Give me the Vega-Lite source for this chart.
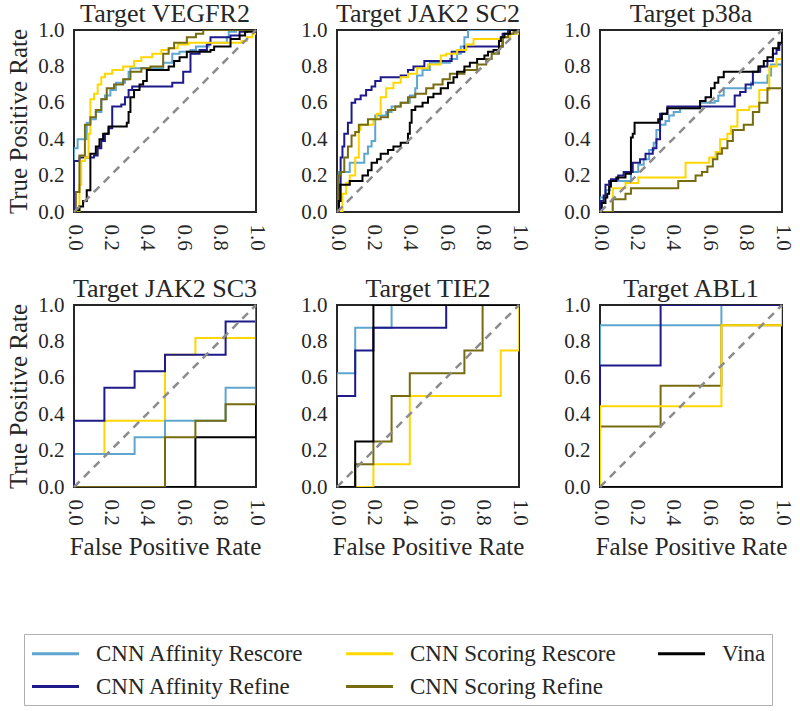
{
  "$schema": "https://vega.github.io/schema/vega-lite/v6.json",
  "padding": {"left": 5, "top": 0, "right": 5, "bottom": 0},
  "background": "white",
  "datasets": {
    "diag": [{"x": 0, "y": 0}, {"x": 1, "y": 1}],
    "roc": [
      {"t":"VEGFR2","m":"CNN Affinity Rescore","x":0,"y":0},{"t":"VEGFR2","m":"CNN Affinity Rescore","x":0,"y":0.35},{"t":"VEGFR2","m":"CNN Affinity Rescore","x":0.02,"y":0.40},{"t":"VEGFR2","m":"CNN Affinity Rescore","x":0.07,"y":0.49},{"t":"VEGFR2","m":"CNN Affinity Rescore","x":0.09,"y":0.51},{"t":"VEGFR2","m":"CNN Affinity Rescore","x":0.12,"y":0.55},{"t":"VEGFR2","m":"CNN Affinity Rescore","x":0.15,"y":0.62},{"t":"VEGFR2","m":"CNN Affinity Rescore","x":0.17,"y":0.64},{"t":"VEGFR2","m":"CNN Affinity Rescore","x":0.20,"y":0.67},{"t":"VEGFR2","m":"CNN Affinity Rescore","x":0.23,"y":0.71},{"t":"VEGFR2","m":"CNN Affinity Rescore","x":0.28,"y":0.73},{"t":"VEGFR2","m":"CNN Affinity Rescore","x":0.30,"y":0.77},{"t":"VEGFR2","m":"CNN Affinity Rescore","x":0.31,"y":0.79},{"t":"VEGFR2","m":"CNN Affinity Rescore","x":0.49,"y":0.82},{"t":"VEGFR2","m":"CNN Affinity Rescore","x":0.54,"y":0.87},{"t":"VEGFR2","m":"CNN Affinity Rescore","x":0.58,"y":0.88},{"t":"VEGFR2","m":"CNN Affinity Rescore","x":0.64,"y":0.89},{"t":"VEGFR2","m":"CNN Affinity Rescore","x":0.67,"y":0.91},{"t":"VEGFR2","m":"CNN Affinity Rescore","x":0.74,"y":0.93},{"t":"VEGFR2","m":"CNN Affinity Rescore","x":0.84,"y":0.96},{"t":"VEGFR2","m":"CNN Affinity Rescore","x":0.85,"y":0.99},{"t":"VEGFR2","m":"CNN Affinity Rescore","x":0.89,"y":1.0},{"t":"VEGFR2","m":"CNN Affinity Rescore","x":1,"y":1},
      {"t":"VEGFR2","m":"CNN Affinity Refine","x":0,"y":0},{"t":"VEGFR2","m":"CNN Affinity Refine","x":0,"y":0.28},{"t":"VEGFR2","m":"CNN Affinity Refine","x":0.03,"y":0.30},{"t":"VEGFR2","m":"CNN Affinity Refine","x":0.11,"y":0.31},{"t":"VEGFR2","m":"CNN Affinity Refine","x":0.13,"y":0.35},{"t":"VEGFR2","m":"CNN Affinity Refine","x":0.15,"y":0.39},{"t":"VEGFR2","m":"CNN Affinity Refine","x":0.17,"y":0.43},{"t":"VEGFR2","m":"CNN Affinity Refine","x":0.19,"y":0.46},{"t":"VEGFR2","m":"CNN Affinity Refine","x":0.21,"y":0.58},{"t":"VEGFR2","m":"CNN Affinity Refine","x":0.26,"y":0.59},{"t":"VEGFR2","m":"CNN Affinity Refine","x":0.28,"y":0.63},{"t":"VEGFR2","m":"CNN Affinity Refine","x":0.30,"y":0.67},{"t":"VEGFR2","m":"CNN Affinity Refine","x":0.32,"y":0.69},{"t":"VEGFR2","m":"CNN Affinity Refine","x":0.54,"y":0.71},{"t":"VEGFR2","m":"CNN Affinity Refine","x":0.60,"y":0.77},{"t":"VEGFR2","m":"CNN Affinity Refine","x":0.64,"y":0.87},{"t":"VEGFR2","m":"CNN Affinity Refine","x":0.69,"y":0.89},{"t":"VEGFR2","m":"CNN Affinity Refine","x":0.73,"y":0.92},{"t":"VEGFR2","m":"CNN Affinity Refine","x":0.75,"y":0.96},{"t":"VEGFR2","m":"CNN Affinity Refine","x":0.86,"y":0.97},{"t":"VEGFR2","m":"CNN Affinity Refine","x":0.91,"y":0.99},{"t":"VEGFR2","m":"CNN Affinity Refine","x":0.95,"y":1.0},{"t":"VEGFR2","m":"CNN Affinity Refine","x":1,"y":1},
      {"t":"VEGFR2","m":"CNN Scoring Rescore","x":0,"y":0},{"t":"VEGFR2","m":"CNN Scoring Rescore","x":0.03,"y":0.15},{"t":"VEGFR2","m":"CNN Scoring Rescore","x":0.04,"y":0.28},{"t":"VEGFR2","m":"CNN Scoring Rescore","x":0.06,"y":0.30},{"t":"VEGFR2","m":"CNN Scoring Rescore","x":0.08,"y":0.43},{"t":"VEGFR2","m":"CNN Scoring Rescore","x":0.09,"y":0.62},{"t":"VEGFR2","m":"CNN Scoring Rescore","x":0.11,"y":0.65},{"t":"VEGFR2","m":"CNN Scoring Rescore","x":0.13,"y":0.70},{"t":"VEGFR2","m":"CNN Scoring Rescore","x":0.15,"y":0.74},{"t":"VEGFR2","m":"CNN Scoring Rescore","x":0.17,"y":0.76},{"t":"VEGFR2","m":"CNN Scoring Rescore","x":0.21,"y":0.78},{"t":"VEGFR2","m":"CNN Scoring Rescore","x":0.27,"y":0.80},{"t":"VEGFR2","m":"CNN Scoring Rescore","x":0.33,"y":0.83},{"t":"VEGFR2","m":"CNN Scoring Rescore","x":0.37,"y":0.85},{"t":"VEGFR2","m":"CNN Scoring Rescore","x":0.43,"y":0.87},{"t":"VEGFR2","m":"CNN Scoring Rescore","x":0.48,"y":0.89},{"t":"VEGFR2","m":"CNN Scoring Rescore","x":0.52,"y":0.90},{"t":"VEGFR2","m":"CNN Scoring Rescore","x":0.57,"y":0.92},{"t":"VEGFR2","m":"CNN Scoring Rescore","x":0.63,"y":0.93},{"t":"VEGFR2","m":"CNN Scoring Rescore","x":0.92,"y":0.94},{"t":"VEGFR2","m":"CNN Scoring Rescore","x":0.95,"y":0.96},{"t":"VEGFR2","m":"CNN Scoring Rescore","x":0.98,"y":0.98},{"t":"VEGFR2","m":"CNN Scoring Rescore","x":1,"y":1},
      {"t":"VEGFR2","m":"CNN Scoring Refine","x":0,"y":0},{"t":"VEGFR2","m":"CNN Scoring Refine","x":0.01,"y":0.11},{"t":"VEGFR2","m":"CNN Scoring Refine","x":0.03,"y":0.31},{"t":"VEGFR2","m":"CNN Scoring Refine","x":0.06,"y":0.48},{"t":"VEGFR2","m":"CNN Scoring Refine","x":0.09,"y":0.52},{"t":"VEGFR2","m":"CNN Scoring Refine","x":0.12,"y":0.56},{"t":"VEGFR2","m":"CNN Scoring Refine","x":0.15,"y":0.62},{"t":"VEGFR2","m":"CNN Scoring Refine","x":0.18,"y":0.68},{"t":"VEGFR2","m":"CNN Scoring Refine","x":0.22,"y":0.70},{"t":"VEGFR2","m":"CNN Scoring Refine","x":0.27,"y":0.73},{"t":"VEGFR2","m":"CNN Scoring Refine","x":0.31,"y":0.77},{"t":"VEGFR2","m":"CNN Scoring Refine","x":0.37,"y":0.79},{"t":"VEGFR2","m":"CNN Scoring Refine","x":0.42,"y":0.80},{"t":"VEGFR2","m":"CNN Scoring Refine","x":0.49,"y":0.87},{"t":"VEGFR2","m":"CNN Scoring Refine","x":0.52,"y":0.90},{"t":"VEGFR2","m":"CNN Scoring Refine","x":0.55,"y":0.93},{"t":"VEGFR2","m":"CNN Scoring Refine","x":0.62,"y":0.96},{"t":"VEGFR2","m":"CNN Scoring Refine","x":0.67,"y":0.98},{"t":"VEGFR2","m":"CNN Scoring Refine","x":0.71,"y":1.0},{"t":"VEGFR2","m":"CNN Scoring Refine","x":1,"y":1},
      {"t":"VEGFR2","m":"Vina","x":0,"y":0},{"t":"VEGFR2","m":"Vina","x":0,"y":0.01},{"t":"VEGFR2","m":"Vina","x":0.03,"y":0.03},{"t":"VEGFR2","m":"Vina","x":0.05,"y":0.06},{"t":"VEGFR2","m":"Vina","x":0.07,"y":0.12},{"t":"VEGFR2","m":"Vina","x":0.09,"y":0.32},{"t":"VEGFR2","m":"Vina","x":0.12,"y":0.36},{"t":"VEGFR2","m":"Vina","x":0.14,"y":0.40},{"t":"VEGFR2","m":"Vina","x":0.16,"y":0.43},{"t":"VEGFR2","m":"Vina","x":0.19,"y":0.47},{"t":"VEGFR2","m":"Vina","x":0.29,"y":0.49},{"t":"VEGFR2","m":"Vina","x":0.30,"y":0.55},{"t":"VEGFR2","m":"Vina","x":0.31,"y":0.63},{"t":"VEGFR2","m":"Vina","x":0.33,"y":0.67},{"t":"VEGFR2","m":"Vina","x":0.36,"y":0.70},{"t":"VEGFR2","m":"Vina","x":0.38,"y":0.72},{"t":"VEGFR2","m":"Vina","x":0.40,"y":0.78},{"t":"VEGFR2","m":"Vina","x":0.52,"y":0.80},{"t":"VEGFR2","m":"Vina","x":0.55,"y":0.83},{"t":"VEGFR2","m":"Vina","x":0.58,"y":0.85},{"t":"VEGFR2","m":"Vina","x":0.62,"y":0.88},{"t":"VEGFR2","m":"Vina","x":0.75,"y":0.89},{"t":"VEGFR2","m":"Vina","x":0.77,"y":0.91},{"t":"VEGFR2","m":"Vina","x":0.86,"y":0.95},{"t":"VEGFR2","m":"Vina","x":0.91,"y":0.97},{"t":"VEGFR2","m":"Vina","x":0.94,"y":0.99},{"t":"VEGFR2","m":"Vina","x":1,"y":1},

      {"t":"JAK2 SC2","m":"CNN Affinity Rescore","x":0,"y":0},{"t":"JAK2 SC2","m":"CNN Affinity Rescore","x":0.01,"y":0.22},{"t":"JAK2 SC2","m":"CNN Affinity Rescore","x":0.07,"y":0.27},{"t":"JAK2 SC2","m":"CNN Affinity Rescore","x":0.15,"y":0.32},{"t":"JAK2 SC2","m":"CNN Affinity Rescore","x":0.17,"y":0.36},{"t":"JAK2 SC2","m":"CNN Affinity Rescore","x":0.19,"y":0.39},{"t":"JAK2 SC2","m":"CNN Affinity Rescore","x":0.21,"y":0.53},{"t":"JAK2 SC2","m":"CNN Affinity Rescore","x":0.27,"y":0.55},{"t":"JAK2 SC2","m":"CNN Affinity Rescore","x":0.30,"y":0.58},{"t":"JAK2 SC2","m":"CNN Affinity Rescore","x":0.35,"y":0.60},{"t":"JAK2 SC2","m":"CNN Affinity Rescore","x":0.40,"y":0.64},{"t":"JAK2 SC2","m":"CNN Affinity Rescore","x":0.43,"y":0.68},{"t":"JAK2 SC2","m":"CNN Affinity Rescore","x":0.44,"y":0.75},{"t":"JAK2 SC2","m":"CNN Affinity Rescore","x":0.47,"y":0.78},{"t":"JAK2 SC2","m":"CNN Affinity Rescore","x":0.51,"y":0.82},{"t":"JAK2 SC2","m":"CNN Affinity Rescore","x":0.62,"y":0.84},{"t":"JAK2 SC2","m":"CNN Affinity Rescore","x":0.66,"y":0.87},{"t":"JAK2 SC2","m":"CNN Affinity Rescore","x":0.68,"y":0.91},{"t":"JAK2 SC2","m":"CNN Affinity Rescore","x":0.70,"y":0.96},{"t":"JAK2 SC2","m":"CNN Affinity Rescore","x":0.72,"y":1.0},{"t":"JAK2 SC2","m":"CNN Affinity Rescore","x":1,"y":1},
      {"t":"JAK2 SC2","m":"CNN Affinity Refine","x":0,"y":0},{"t":"JAK2 SC2","m":"CNN Affinity Refine","x":0.01,"y":0.15},{"t":"JAK2 SC2","m":"CNN Affinity Refine","x":0.02,"y":0.30},{"t":"JAK2 SC2","m":"CNN Affinity Refine","x":0.03,"y":0.36},{"t":"JAK2 SC2","m":"CNN Affinity Refine","x":0.04,"y":0.43},{"t":"JAK2 SC2","m":"CNN Affinity Refine","x":0.06,"y":0.49},{"t":"JAK2 SC2","m":"CNN Affinity Refine","x":0.08,"y":0.60},{"t":"JAK2 SC2","m":"CNN Affinity Refine","x":0.10,"y":0.62},{"t":"JAK2 SC2","m":"CNN Affinity Refine","x":0.13,"y":0.64},{"t":"JAK2 SC2","m":"CNN Affinity Refine","x":0.16,"y":0.67},{"t":"JAK2 SC2","m":"CNN Affinity Refine","x":0.19,"y":0.69},{"t":"JAK2 SC2","m":"CNN Affinity Refine","x":0.21,"y":0.72},{"t":"JAK2 SC2","m":"CNN Affinity Refine","x":0.24,"y":0.74},{"t":"JAK2 SC2","m":"CNN Affinity Refine","x":0.35,"y":0.75},{"t":"JAK2 SC2","m":"CNN Affinity Refine","x":0.39,"y":0.78},{"t":"JAK2 SC2","m":"CNN Affinity Refine","x":0.42,"y":0.80},{"t":"JAK2 SC2","m":"CNN Affinity Refine","x":0.48,"y":0.83},{"t":"JAK2 SC2","m":"CNN Affinity Refine","x":0.63,"y":0.88},{"t":"JAK2 SC2","m":"CNN Affinity Refine","x":0.70,"y":0.91},{"t":"JAK2 SC2","m":"CNN Affinity Refine","x":0.91,"y":0.98},{"t":"JAK2 SC2","m":"CNN Affinity Refine","x":0.94,"y":1.0},{"t":"JAK2 SC2","m":"CNN Affinity Refine","x":1,"y":1},
      {"t":"JAK2 SC2","m":"CNN Scoring Rescore","x":0,"y":0},{"t":"JAK2 SC2","m":"CNN Scoring Rescore","x":0.03,"y":0.10},{"t":"JAK2 SC2","m":"CNN Scoring Rescore","x":0.05,"y":0.16},{"t":"JAK2 SC2","m":"CNN Scoring Rescore","x":0.07,"y":0.20},{"t":"JAK2 SC2","m":"CNN Scoring Rescore","x":0.10,"y":0.30},{"t":"JAK2 SC2","m":"CNN Scoring Rescore","x":0.12,"y":0.45},{"t":"JAK2 SC2","m":"CNN Scoring Rescore","x":0.13,"y":0.48},{"t":"JAK2 SC2","m":"CNN Scoring Rescore","x":0.20,"y":0.51},{"t":"JAK2 SC2","m":"CNN Scoring Rescore","x":0.22,"y":0.54},{"t":"JAK2 SC2","m":"CNN Scoring Rescore","x":0.24,"y":0.63},{"t":"JAK2 SC2","m":"CNN Scoring Rescore","x":0.27,"y":0.68},{"t":"JAK2 SC2","m":"CNN Scoring Rescore","x":0.31,"y":0.71},{"t":"JAK2 SC2","m":"CNN Scoring Rescore","x":0.35,"y":0.74},{"t":"JAK2 SC2","m":"CNN Scoring Rescore","x":0.39,"y":0.76},{"t":"JAK2 SC2","m":"CNN Scoring Rescore","x":0.44,"y":0.79},{"t":"JAK2 SC2","m":"CNN Scoring Rescore","x":0.50,"y":0.81},{"t":"JAK2 SC2","m":"CNN Scoring Rescore","x":0.57,"y":0.86},{"t":"JAK2 SC2","m":"CNN Scoring Rescore","x":0.60,"y":0.87},{"t":"JAK2 SC2","m":"CNN Scoring Rescore","x":0.66,"y":0.89},{"t":"JAK2 SC2","m":"CNN Scoring Rescore","x":0.71,"y":0.92},{"t":"JAK2 SC2","m":"CNN Scoring Rescore","x":0.75,"y":0.95},{"t":"JAK2 SC2","m":"CNN Scoring Rescore","x":0.90,"y":0.96},{"t":"JAK2 SC2","m":"CNN Scoring Rescore","x":0.95,"y":0.98},{"t":"JAK2 SC2","m":"CNN Scoring Rescore","x":1,"y":1},
      {"t":"JAK2 SC2","m":"CNN Scoring Refine","x":0,"y":0},{"t":"JAK2 SC2","m":"CNN Scoring Refine","x":0.005,"y":0.20},{"t":"JAK2 SC2","m":"CNN Scoring Refine","x":0.02,"y":0.22},{"t":"JAK2 SC2","m":"CNN Scoring Refine","x":0.04,"y":0.30},{"t":"JAK2 SC2","m":"CNN Scoring Refine","x":0.06,"y":0.36},{"t":"JAK2 SC2","m":"CNN Scoring Refine","x":0.08,"y":0.42},{"t":"JAK2 SC2","m":"CNN Scoring Refine","x":0.10,"y":0.44},{"t":"JAK2 SC2","m":"CNN Scoring Refine","x":0.12,"y":0.48},{"t":"JAK2 SC2","m":"CNN Scoring Refine","x":0.17,"y":0.51},{"t":"JAK2 SC2","m":"CNN Scoring Refine","x":0.24,"y":0.52},{"t":"JAK2 SC2","m":"CNN Scoring Refine","x":0.28,"y":0.56},{"t":"JAK2 SC2","m":"CNN Scoring Refine","x":0.32,"y":0.58},{"t":"JAK2 SC2","m":"CNN Scoring Refine","x":0.35,"y":0.60},{"t":"JAK2 SC2","m":"CNN Scoring Refine","x":0.39,"y":0.63},{"t":"JAK2 SC2","m":"CNN Scoring Refine","x":0.43,"y":0.65},{"t":"JAK2 SC2","m":"CNN Scoring Refine","x":0.49,"y":0.68},{"t":"JAK2 SC2","m":"CNN Scoring Refine","x":0.53,"y":0.70},{"t":"JAK2 SC2","m":"CNN Scoring Refine","x":0.58,"y":0.73},{"t":"JAK2 SC2","m":"CNN Scoring Refine","x":0.62,"y":0.76},{"t":"JAK2 SC2","m":"CNN Scoring Refine","x":0.70,"y":0.78},{"t":"JAK2 SC2","m":"CNN Scoring Refine","x":0.77,"y":0.81},{"t":"JAK2 SC2","m":"CNN Scoring Refine","x":0.82,"y":0.84},{"t":"JAK2 SC2","m":"CNN Scoring Refine","x":0.85,"y":0.87},{"t":"JAK2 SC2","m":"CNN Scoring Refine","x":0.89,"y":0.91},{"t":"JAK2 SC2","m":"CNN Scoring Refine","x":0.91,"y":0.96},{"t":"JAK2 SC2","m":"CNN Scoring Refine","x":0.94,"y":0.98},{"t":"JAK2 SC2","m":"CNN Scoring Refine","x":0.97,"y":0.99},{"t":"JAK2 SC2","m":"CNN Scoring Refine","x":1,"y":1},
      {"t":"JAK2 SC2","m":"Vina","x":0,"y":0},{"t":"JAK2 SC2","m":"Vina","x":0.01,"y":0.06},{"t":"JAK2 SC2","m":"Vina","x":0.02,"y":0.15},{"t":"JAK2 SC2","m":"Vina","x":0.07,"y":0.17},{"t":"JAK2 SC2","m":"Vina","x":0.14,"y":0.20},{"t":"JAK2 SC2","m":"Vina","x":0.17,"y":0.23},{"t":"JAK2 SC2","m":"Vina","x":0.19,"y":0.27},{"t":"JAK2 SC2","m":"Vina","x":0.22,"y":0.29},{"t":"JAK2 SC2","m":"Vina","x":0.24,"y":0.32},{"t":"JAK2 SC2","m":"Vina","x":0.28,"y":0.34},{"t":"JAK2 SC2","m":"Vina","x":0.31,"y":0.36},{"t":"JAK2 SC2","m":"Vina","x":0.35,"y":0.38},{"t":"JAK2 SC2","m":"Vina","x":0.39,"y":0.43},{"t":"JAK2 SC2","m":"Vina","x":0.40,"y":0.49},{"t":"JAK2 SC2","m":"Vina","x":0.41,"y":0.56},{"t":"JAK2 SC2","m":"Vina","x":0.43,"y":0.58},{"t":"JAK2 SC2","m":"Vina","x":0.47,"y":0.60},{"t":"JAK2 SC2","m":"Vina","x":0.50,"y":0.63},{"t":"JAK2 SC2","m":"Vina","x":0.53,"y":0.65},{"t":"JAK2 SC2","m":"Vina","x":0.57,"y":0.68},{"t":"JAK2 SC2","m":"Vina","x":0.61,"y":0.71},{"t":"JAK2 SC2","m":"Vina","x":0.64,"y":0.74},{"t":"JAK2 SC2","m":"Vina","x":0.66,"y":0.77},{"t":"JAK2 SC2","m":"Vina","x":0.70,"y":0.80},{"t":"JAK2 SC2","m":"Vina","x":0.73,"y":0.82},{"t":"JAK2 SC2","m":"Vina","x":0.77,"y":0.84},{"t":"JAK2 SC2","m":"Vina","x":0.81,"y":0.86},{"t":"JAK2 SC2","m":"Vina","x":0.83,"y":0.88},{"t":"JAK2 SC2","m":"Vina","x":0.86,"y":0.89},{"t":"JAK2 SC2","m":"Vina","x":0.89,"y":0.94},{"t":"JAK2 SC2","m":"Vina","x":0.90,"y":0.96},{"t":"JAK2 SC2","m":"Vina","x":0.92,"y":0.98},{"t":"JAK2 SC2","m":"Vina","x":0.95,"y":1.0},{"t":"JAK2 SC2","m":"Vina","x":1,"y":1},

      {"t":"p38a","m":"CNN Affinity Rescore","x":0,"y":0},{"t":"p38a","m":"CNN Affinity Rescore","x":0,"y":0.08},{"t":"p38a","m":"CNN Affinity Rescore","x":0.03,"y":0.12},{"t":"p38a","m":"CNN Affinity Rescore","x":0.055,"y":0.17},{"t":"p38a","m":"CNN Affinity Rescore","x":0.17,"y":0.22},{"t":"p38a","m":"CNN Affinity Rescore","x":0.21,"y":0.26},{"t":"p38a","m":"CNN Affinity Rescore","x":0.24,"y":0.29},{"t":"p38a","m":"CNN Affinity Rescore","x":0.27,"y":0.34},{"t":"p38a","m":"CNN Affinity Rescore","x":0.295,"y":0.38},{"t":"p38a","m":"CNN Affinity Rescore","x":0.31,"y":0.45},{"t":"p38a","m":"CNN Affinity Rescore","x":0.33,"y":0.48},{"t":"p38a","m":"CNN Affinity Rescore","x":0.36,"y":0.50},{"t":"p38a","m":"CNN Affinity Rescore","x":0.38,"y":0.53},{"t":"p38a","m":"CNN Affinity Rescore","x":0.405,"y":0.55},{"t":"p38a","m":"CNN Affinity Rescore","x":0.44,"y":0.57},{"t":"p38a","m":"CNN Affinity Rescore","x":0.55,"y":0.60},{"t":"p38a","m":"CNN Affinity Rescore","x":0.63,"y":0.61},{"t":"p38a","m":"CNN Affinity Rescore","x":0.65,"y":0.64},{"t":"p38a","m":"CNN Affinity Rescore","x":0.68,"y":0.68},{"t":"p38a","m":"CNN Affinity Rescore","x":0.83,"y":0.71},{"t":"p38a","m":"CNN Affinity Rescore","x":0.92,"y":0.75},{"t":"p38a","m":"CNN Affinity Rescore","x":0.94,"y":0.81},{"t":"p38a","m":"CNN Affinity Rescore","x":1,"y":1},
      {"t":"p38a","m":"CNN Affinity Refine","x":0,"y":0},{"t":"p38a","m":"CNN Affinity Refine","x":0,"y":0.06},{"t":"p38a","m":"CNN Affinity Refine","x":0.02,"y":0.09},{"t":"p38a","m":"CNN Affinity Refine","x":0.03,"y":0.15},{"t":"p38a","m":"CNN Affinity Refine","x":0.05,"y":0.17},{"t":"p38a","m":"CNN Affinity Refine","x":0.06,"y":0.18},{"t":"p38a","m":"CNN Affinity Refine","x":0.10,"y":0.20},{"t":"p38a","m":"CNN Affinity Refine","x":0.13,"y":0.22},{"t":"p38a","m":"CNN Affinity Refine","x":0.18,"y":0.27},{"t":"p38a","m":"CNN Affinity Refine","x":0.22,"y":0.29},{"t":"p38a","m":"CNN Affinity Refine","x":0.25,"y":0.32},{"t":"p38a","m":"CNN Affinity Refine","x":0.29,"y":0.35},{"t":"p38a","m":"CNN Affinity Refine","x":0.31,"y":0.40},{"t":"p38a","m":"CNN Affinity Refine","x":0.33,"y":0.54},{"t":"p38a","m":"CNN Affinity Refine","x":0.37,"y":0.58},{"t":"p38a","m":"CNN Affinity Refine","x":0.74,"y":0.64},{"t":"p38a","m":"CNN Affinity Refine","x":0.77,"y":0.66},{"t":"p38a","m":"CNN Affinity Refine","x":0.80,"y":0.70},{"t":"p38a","m":"CNN Affinity Refine","x":0.84,"y":0.77},{"t":"p38a","m":"CNN Affinity Refine","x":0.88,"y":0.80},{"t":"p38a","m":"CNN Affinity Refine","x":0.92,"y":0.83},{"t":"p38a","m":"CNN Affinity Refine","x":0.95,"y":0.87},{"t":"p38a","m":"CNN Affinity Refine","x":0.97,"y":0.89},{"t":"p38a","m":"CNN Affinity Refine","x":0.985,"y":0.92},{"t":"p38a","m":"CNN Affinity Refine","x":1,"y":1},
      {"t":"p38a","m":"CNN Scoring Rescore","x":0,"y":0},{"t":"p38a","m":"CNN Scoring Rescore","x":0.07,"y":0.13},{"t":"p38a","m":"CNN Scoring Rescore","x":0.14,"y":0.16},{"t":"p38a","m":"CNN Scoring Rescore","x":0.21,"y":0.19},{"t":"p38a","m":"CNN Scoring Rescore","x":0.47,"y":0.27},{"t":"p38a","m":"CNN Scoring Rescore","x":0.60,"y":0.30},{"t":"p38a","m":"CNN Scoring Rescore","x":0.635,"y":0.33},{"t":"p38a","m":"CNN Scoring Rescore","x":0.66,"y":0.40},{"t":"p38a","m":"CNN Scoring Rescore","x":0.70,"y":0.43},{"t":"p38a","m":"CNN Scoring Rescore","x":0.72,"y":0.47},{"t":"p38a","m":"CNN Scoring Rescore","x":0.755,"y":0.56},{"t":"p38a","m":"CNN Scoring Rescore","x":0.82,"y":0.58},{"t":"p38a","m":"CNN Scoring Rescore","x":0.875,"y":0.67},{"t":"p38a","m":"CNN Scoring Rescore","x":0.93,"y":0.80},{"t":"p38a","m":"CNN Scoring Rescore","x":0.97,"y":0.84},{"t":"p38a","m":"CNN Scoring Rescore","x":1,"y":1},
      {"t":"p38a","m":"CNN Scoring Refine","x":0,"y":0},{"t":"p38a","m":"CNN Scoring Refine","x":0.07,"y":0.07},{"t":"p38a","m":"CNN Scoring Refine","x":0.14,"y":0.10},{"t":"p38a","m":"CNN Scoring Refine","x":0.17,"y":0.13},{"t":"p38a","m":"CNN Scoring Refine","x":0.43,"y":0.17},{"t":"p38a","m":"CNN Scoring Refine","x":0.525,"y":0.20},{"t":"p38a","m":"CNN Scoring Refine","x":0.56,"y":0.22},{"t":"p38a","m":"CNN Scoring Refine","x":0.59,"y":0.25},{"t":"p38a","m":"CNN Scoring Refine","x":0.62,"y":0.29},{"t":"p38a","m":"CNN Scoring Refine","x":0.645,"y":0.32},{"t":"p38a","m":"CNN Scoring Refine","x":0.67,"y":0.35},{"t":"p38a","m":"CNN Scoring Refine","x":0.70,"y":0.39},{"t":"p38a","m":"CNN Scoring Refine","x":0.73,"y":0.45},{"t":"p38a","m":"CNN Scoring Refine","x":0.79,"y":0.48},{"t":"p38a","m":"CNN Scoring Refine","x":0.84,"y":0.55},{"t":"p38a","m":"CNN Scoring Refine","x":0.875,"y":0.60},{"t":"p38a","m":"CNN Scoring Refine","x":0.92,"y":0.68},{"t":"p38a","m":"CNN Scoring Refine","x":1,"y":1},
      {"t":"p38a","m":"Vina","x":0,"y":0},{"t":"p38a","m":"Vina","x":0.01,"y":0.05},{"t":"p38a","m":"Vina","x":0.03,"y":0.08},{"t":"p38a","m":"Vina","x":0.04,"y":0.10},{"t":"p38a","m":"Vina","x":0.05,"y":0.14},{"t":"p38a","m":"Vina","x":0.06,"y":0.17},{"t":"p38a","m":"Vina","x":0.09,"y":0.19},{"t":"p38a","m":"Vina","x":0.14,"y":0.21},{"t":"p38a","m":"Vina","x":0.17,"y":0.41},{"t":"p38a","m":"Vina","x":0.18,"y":0.43},{"t":"p38a","m":"Vina","x":0.19,"y":0.49},{"t":"p38a","m":"Vina","x":0.32,"y":0.51},{"t":"p38a","m":"Vina","x":0.34,"y":0.54},{"t":"p38a","m":"Vina","x":0.37,"y":0.57},{"t":"p38a","m":"Vina","x":0.55,"y":0.61},{"t":"p38a","m":"Vina","x":0.58,"y":0.63},{"t":"p38a","m":"Vina","x":0.61,"y":0.68},{"t":"p38a","m":"Vina","x":0.63,"y":0.71},{"t":"p38a","m":"Vina","x":0.65,"y":0.74},{"t":"p38a","m":"Vina","x":0.68,"y":0.77},{"t":"p38a","m":"Vina","x":0.87,"y":0.80},{"t":"p38a","m":"Vina","x":0.90,"y":0.83},{"t":"p38a","m":"Vina","x":0.92,"y":0.85},{"t":"p38a","m":"Vina","x":0.95,"y":0.90},{"t":"p38a","m":"Vina","x":0.98,"y":0.93},{"t":"p38a","m":"Vina","x":1,"y":1},

      {"t":"JAK2 SC3","m":"CNN Scoring Rescore","x":0,"y":0},{"t":"JAK2 SC3","m":"CNN Scoring Rescore","x":0,"y":0.182},{"t":"JAK2 SC3","m":"CNN Scoring Rescore","x":0.167,"y":0.364},{"t":"JAK2 SC3","m":"CNN Scoring Rescore","x":0.5,"y":0.727},{"t":"JAK2 SC3","m":"CNN Scoring Rescore","x":0.667,"y":0.818},{"t":"JAK2 SC3","m":"CNN Scoring Rescore","x":1,"y":1},
      {"t":"JAK2 SC3","m":"CNN Affinity Rescore","x":0,"y":0},{"t":"JAK2 SC3","m":"CNN Affinity Rescore","x":0,"y":0.182},{"t":"JAK2 SC3","m":"CNN Affinity Rescore","x":0.333,"y":0.273},{"t":"JAK2 SC3","m":"CNN Affinity Rescore","x":0.5,"y":0.364},{"t":"JAK2 SC3","m":"CNN Affinity Rescore","x":0.833,"y":0.545},{"t":"JAK2 SC3","m":"CNN Affinity Rescore","x":1,"y":1},
      {"t":"JAK2 SC3","m":"CNN Affinity Refine","x":0,"y":0},{"t":"JAK2 SC3","m":"CNN Affinity Refine","x":0,"y":0.364},{"t":"JAK2 SC3","m":"CNN Affinity Refine","x":0.167,"y":0.545},{"t":"JAK2 SC3","m":"CNN Affinity Refine","x":0.333,"y":0.636},{"t":"JAK2 SC3","m":"CNN Affinity Refine","x":0.5,"y":0.727},{"t":"JAK2 SC3","m":"CNN Affinity Refine","x":0.833,"y":0.909},{"t":"JAK2 SC3","m":"CNN Affinity Refine","x":1,"y":1},
      {"t":"JAK2 SC3","m":"Vina","x":0,"y":0},{"t":"JAK2 SC3","m":"Vina","x":0.667,"y":0.273},{"t":"JAK2 SC3","m":"Vina","x":1,"y":1},
      {"t":"JAK2 SC3","m":"CNN Scoring Refine","x":0,"y":0},{"t":"JAK2 SC3","m":"CNN Scoring Refine","x":0.5,"y":0.273},{"t":"JAK2 SC3","m":"CNN Scoring Refine","x":0.667,"y":0.364},{"t":"JAK2 SC3","m":"CNN Scoring Refine","x":0.833,"y":0.455},{"t":"JAK2 SC3","m":"CNN Scoring Refine","x":1,"y":1},

      {"t":"TIE2","m":"CNN Affinity Rescore","x":0,"y":0},{"t":"TIE2","m":"CNN Affinity Rescore","x":0,"y":0.625},{"t":"TIE2","m":"CNN Affinity Rescore","x":0.1,"y":0.875},{"t":"TIE2","m":"CNN Affinity Rescore","x":0.3,"y":1},{"t":"TIE2","m":"CNN Affinity Rescore","x":1,"y":1},
      {"t":"TIE2","m":"CNN Affinity Refine","x":0,"y":0},{"t":"TIE2","m":"CNN Affinity Refine","x":0,"y":0.5},{"t":"TIE2","m":"CNN Affinity Refine","x":0.1,"y":0.75},{"t":"TIE2","m":"CNN Affinity Refine","x":0.2,"y":0.875},{"t":"TIE2","m":"CNN Affinity Refine","x":0.6,"y":1},{"t":"TIE2","m":"CNN Affinity Refine","x":1,"y":1},
      {"t":"TIE2","m":"CNN Scoring Rescore","x":0,"y":0},{"t":"TIE2","m":"CNN Scoring Rescore","x":0.2,"y":0.125},{"t":"TIE2","m":"CNN Scoring Rescore","x":0.4,"y":0.5},{"t":"TIE2","m":"CNN Scoring Rescore","x":0.9,"y":0.75},{"t":"TIE2","m":"CNN Scoring Rescore","x":1,"y":1},
      {"t":"TIE2","m":"CNN Scoring Refine","x":0,"y":0},{"t":"TIE2","m":"CNN Scoring Refine","x":0.1,"y":0.125},{"t":"TIE2","m":"CNN Scoring Refine","x":0.2,"y":0.25},{"t":"TIE2","m":"CNN Scoring Refine","x":0.3,"y":0.5},{"t":"TIE2","m":"CNN Scoring Refine","x":0.4,"y":0.625},{"t":"TIE2","m":"CNN Scoring Refine","x":0.7,"y":0.75},{"t":"TIE2","m":"CNN Scoring Refine","x":0.8,"y":1},{"t":"TIE2","m":"CNN Scoring Refine","x":1,"y":1},
      {"t":"TIE2","m":"Vina","x":0,"y":0},{"t":"TIE2","m":"Vina","x":0.1,"y":0.25},{"t":"TIE2","m":"Vina","x":0.2,"y":1},{"t":"TIE2","m":"Vina","x":1,"y":1},

      {"t":"ABL1","m":"Vina","x":0,"y":0},{"t":"ABL1","m":"Vina","x":1,"y":0},{"t":"ABL1","m":"Vina","x":1,"y":1},
      {"t":"ABL1","m":"CNN Affinity Rescore","x":0,"y":0},{"t":"ABL1","m":"CNN Affinity Rescore","x":0,"y":0.889},{"t":"ABL1","m":"CNN Affinity Rescore","x":0.667,"y":1},{"t":"ABL1","m":"CNN Affinity Rescore","x":1,"y":1},
      {"t":"ABL1","m":"CNN Affinity Refine","x":0,"y":0},{"t":"ABL1","m":"CNN Affinity Refine","x":0,"y":0.667},{"t":"ABL1","m":"CNN Affinity Refine","x":0.333,"y":1},{"t":"ABL1","m":"CNN Affinity Refine","x":1,"y":1},
      {"t":"ABL1","m":"CNN Scoring Refine","x":0,"y":0},{"t":"ABL1","m":"CNN Scoring Refine","x":0,"y":0.333},{"t":"ABL1","m":"CNN Scoring Refine","x":0.333,"y":0.556},{"t":"ABL1","m":"CNN Scoring Refine","x":0.667,"y":0.889},{"t":"ABL1","m":"CNN Scoring Refine","x":1,"y":1},
      {"t":"ABL1","m":"CNN Scoring Rescore","x":0,"y":0},{"t":"ABL1","m":"CNN Scoring Rescore","x":0,"y":0.444},{"t":"ABL1","m":"CNN Scoring Rescore","x":0.667,"y":0.889},{"t":"ABL1","m":"CNN Scoring Rescore","x":1,"y":1}
    ]
  },
  "columns": 3,
  "spacing": {"row": 93, "column": 81},
  "bounds": "flush",
  "concat": [
    {
      "title": "Target VEGFR2", "width": 182, "height": 182,
      "encoding": {
        "x": {"field": "x", "type": "quantitative", "scale": {"domain": [0, 1]}, "axis": {"title": null, "values": [0, 0.2, 0.4, 0.6, 0.8, 1], "format": ".1f", "labelAngle": 90, "labelPadding": 12}},
        "y": {"field": "y", "type": "quantitative", "scale": {"domain": [0, 1]}, "axis": {"title": "True Positive Rate", "values": [0, 0.2, 0.4, 0.6, 0.8, 1], "format": ".1f"}}
      },
      "layer": [
        {"data": {"name": "roc"}, "transform": [{"filter": "datum.t === 'VEGFR2'"}], "mark": {"type": "line", "interpolate": "step-after", "strokeWidth": 2, "clip": true},
         "encoding": {"order": [{"field": "x", "type": "quantitative"}, {"field": "y", "type": "quantitative"}],
           "color": {"field": "m", "type": "nominal", "scale": {"domain": ["CNN Affinity Rescore", "CNN Affinity Refine", "CNN Scoring Rescore", "CNN Scoring Refine", "Vina"], "range": ["#5ea5cf", "#1f1a8a", "#ffd700", "#776b10", "#000000"]}, "legend": {"title": null, "orient": "none", "legendX": -50, "legendY": 604, "columns": 3}}}},
        {"data": {"name": "diag"}, "mark": {"type": "line", "color": "#8c8c8c", "strokeDash": [8, 6], "strokeWidth": 2.5}, "encoding": {}}
      ]
    },
    {
      "title": "Target JAK2 SC2", "width": 182, "height": 182,
      "encoding": {
        "x": {"field": "x", "type": "quantitative", "scale": {"domain": [0, 1]}, "axis": {"title": null, "values": [0, 0.2, 0.4, 0.6, 0.8, 1], "format": ".1f", "labelAngle": 90, "labelPadding": 12}},
        "y": {"field": "y", "type": "quantitative", "scale": {"domain": [0, 1]}, "axis": {"title": null, "values": [0, 0.2, 0.4, 0.6, 0.8, 1], "format": ".1f"}}
      },
      "layer": [
        {"data": {"name": "roc"}, "transform": [{"filter": "datum.t === 'JAK2 SC2'"}], "mark": {"type": "line", "interpolate": "step-after", "strokeWidth": 2, "clip": true},
         "encoding": {"order": [{"field": "x", "type": "quantitative"}, {"field": "y", "type": "quantitative"}],
           "color": {"field": "m", "type": "nominal", "scale": {"domain": ["CNN Affinity Rescore", "CNN Affinity Refine", "CNN Scoring Rescore", "CNN Scoring Refine", "Vina"], "range": ["#5ea5cf", "#1f1a8a", "#ffd700", "#776b10", "#000000"]}, "legend": {"title": null, "orient": "none", "legendX": -50, "legendY": 604, "columns": 3}}}},
        {"data": {"name": "diag"}, "mark": {"type": "line", "color": "#8c8c8c", "strokeDash": [8, 6], "strokeWidth": 2.5}, "encoding": {}}
      ]
    },
    {
      "title": "Target p38a", "width": 182, "height": 182,
      "encoding": {
        "x": {"field": "x", "type": "quantitative", "scale": {"domain": [0, 1]}, "axis": {"title": null, "values": [0, 0.2, 0.4, 0.6, 0.8, 1], "format": ".1f", "labelAngle": 90, "labelPadding": 12}},
        "y": {"field": "y", "type": "quantitative", "scale": {"domain": [0, 1]}, "axis": {"title": null, "values": [0, 0.2, 0.4, 0.6, 0.8, 1], "format": ".1f"}}
      },
      "layer": [
        {"data": {"name": "roc"}, "transform": [{"filter": "datum.t === 'p38a'"}], "mark": {"type": "line", "interpolate": "step-after", "strokeWidth": 2, "clip": true},
         "encoding": {"order": [{"field": "x", "type": "quantitative"}, {"field": "y", "type": "quantitative"}],
           "color": {"field": "m", "type": "nominal", "scale": {"domain": ["CNN Affinity Rescore", "CNN Affinity Refine", "CNN Scoring Rescore", "CNN Scoring Refine", "Vina"], "range": ["#5ea5cf", "#1f1a8a", "#ffd700", "#776b10", "#000000"]}, "legend": {"title": null, "orient": "none", "legendX": -50, "legendY": 604, "columns": 3}}}},
        {"data": {"name": "diag"}, "mark": {"type": "line", "color": "#8c8c8c", "strokeDash": [8, 6], "strokeWidth": 2.5}, "encoding": {}}
      ]
    },
    {
      "title": "Target JAK2 SC3", "width": 182, "height": 182,
      "encoding": {
        "x": {"field": "x", "type": "quantitative", "scale": {"domain": [0, 1]}, "axis": {"title": "False Positive Rate", "values": [0, 0.2, 0.4, 0.6, 0.8, 1], "format": ".1f", "labelAngle": 90, "labelPadding": 12, "titlePadding": 9}},
        "y": {"field": "y", "type": "quantitative", "scale": {"domain": [0, 1]}, "axis": {"title": "True Positive Rate", "values": [0, 0.2, 0.4, 0.6, 0.8, 1], "format": ".1f"}}
      },
      "layer": [
        {"data": {"name": "roc"}, "transform": [{"filter": "datum.t === 'JAK2 SC3'"}], "mark": {"type": "line", "interpolate": "step-after", "strokeWidth": 2, "clip": true},
         "encoding": {"order": [{"field": "x", "type": "quantitative"}, {"field": "y", "type": "quantitative"}],
           "color": {"field": "m", "type": "nominal", "scale": {"domain": ["CNN Affinity Rescore", "CNN Affinity Refine", "CNN Scoring Rescore", "CNN Scoring Refine", "Vina"], "range": ["#5ea5cf", "#1f1a8a", "#ffd700", "#776b10", "#000000"]}, "legend": {"title": null, "orient": "none", "legendX": -50, "legendY": 604, "columns": 3}}}},
        {"data": {"name": "diag"}, "mark": {"type": "line", "color": "#8c8c8c", "strokeDash": [8, 6], "strokeWidth": 2.5}, "encoding": {}}
      ]
    },
    {
      "title": "Target TIE2", "width": 182, "height": 182,
      "encoding": {
        "x": {"field": "x", "type": "quantitative", "scale": {"domain": [0, 1]}, "axis": {"title": "False Positive Rate", "values": [0, 0.2, 0.4, 0.6, 0.8, 1], "format": ".1f", "labelAngle": 90, "labelPadding": 12, "titlePadding": 9}},
        "y": {"field": "y", "type": "quantitative", "scale": {"domain": [0, 1]}, "axis": {"title": null, "values": [0, 0.2, 0.4, 0.6, 0.8, 1], "format": ".1f"}}
      },
      "layer": [
        {"data": {"name": "roc"}, "transform": [{"filter": "datum.t === 'TIE2'"}], "mark": {"type": "line", "interpolate": "step-after", "strokeWidth": 2, "clip": true},
         "encoding": {"order": [{"field": "x", "type": "quantitative"}, {"field": "y", "type": "quantitative"}],
           "color": {"field": "m", "type": "nominal", "scale": {"domain": ["CNN Affinity Rescore", "CNN Affinity Refine", "CNN Scoring Rescore", "CNN Scoring Refine", "Vina"], "range": ["#5ea5cf", "#1f1a8a", "#ffd700", "#776b10", "#000000"]}, "legend": {"title": null, "orient": "none", "legendX": -50, "legendY": 604, "columns": 3}}}},
        {"data": {"name": "diag"}, "mark": {"type": "line", "color": "#8c8c8c", "strokeDash": [8, 6], "strokeWidth": 2.5}, "encoding": {}}
      ]
    },
    {
      "title": "Target ABL1", "width": 182, "height": 182,
      "encoding": {
        "x": {"field": "x", "type": "quantitative", "scale": {"domain": [0, 1]}, "axis": {"title": "False Positive Rate", "values": [0, 0.2, 0.4, 0.6, 0.8, 1], "format": ".1f", "labelAngle": 90, "labelPadding": 12, "titlePadding": 9}},
        "y": {"field": "y", "type": "quantitative", "scale": {"domain": [0, 1]}, "axis": {"title": null, "values": [0, 0.2, 0.4, 0.6, 0.8, 1], "format": ".1f"}}
      },
      "layer": [
        {"data": {"name": "roc"}, "transform": [{"filter": "datum.t === 'ABL1'"}], "mark": {"type": "line", "interpolate": "step-after", "strokeWidth": 2, "clip": true},
         "encoding": {"order": [{"field": "x", "type": "quantitative"}, {"field": "y", "type": "quantitative"}],
           "color": {"field": "m", "type": "nominal", "scale": {"domain": ["CNN Affinity Rescore", "CNN Affinity Refine", "CNN Scoring Rescore", "CNN Scoring Refine", "Vina"], "range": ["#5ea5cf", "#1f1a8a", "#ffd700", "#776b10", "#000000"]}, "legend": {"title": null, "orient": "none", "legendX": -50, "legendY": 604, "columns": 3}}}},
        {"data": {"name": "diag"}, "mark": {"type": "line", "color": "#8c8c8c", "strokeDash": [8, 6], "strokeWidth": 2.5}, "encoding": {}}
      ]
    }
  ],
  "config": {
    "view": {"stroke": "#262626", "strokeWidth": 2},
    "axis": {"grid": false, "domain": false, "ticks": false, "tickSize": 0, "labelFont": "Liberation Serif", "labelFontSize": 21, "labelColor": "#262626", "labelPadding": 10, "labelFlush": false, "labelOverlap": false, "labelBound": false, "titleFont": "Liberation Serif", "titleFontSize": 25, "titleFontWeight": "normal", "titleColor": "#262626", "titlePadding": 6},
    "title": {"font": "Liberation Serif", "fontSize": 26, "fontWeight": "normal", "color": "#262626", "offset": -8, "anchor": "middle"},
    "legend": {"symbolType": "M-2,0H2", "symbolSize": 552, "symbolStrokeWidth": 3, "symbolOffset": 12, "labelFont": "Liberation Serif", "labelFontSize": 23, "labelColor": "#262626", "labelOffset": 27, "columnPadding": 36, "rowPadding": 7, "padding": 6, "strokeColor": "#b0b0b0", "fillColor": "white", "labelLimit": 400}
  }
}
